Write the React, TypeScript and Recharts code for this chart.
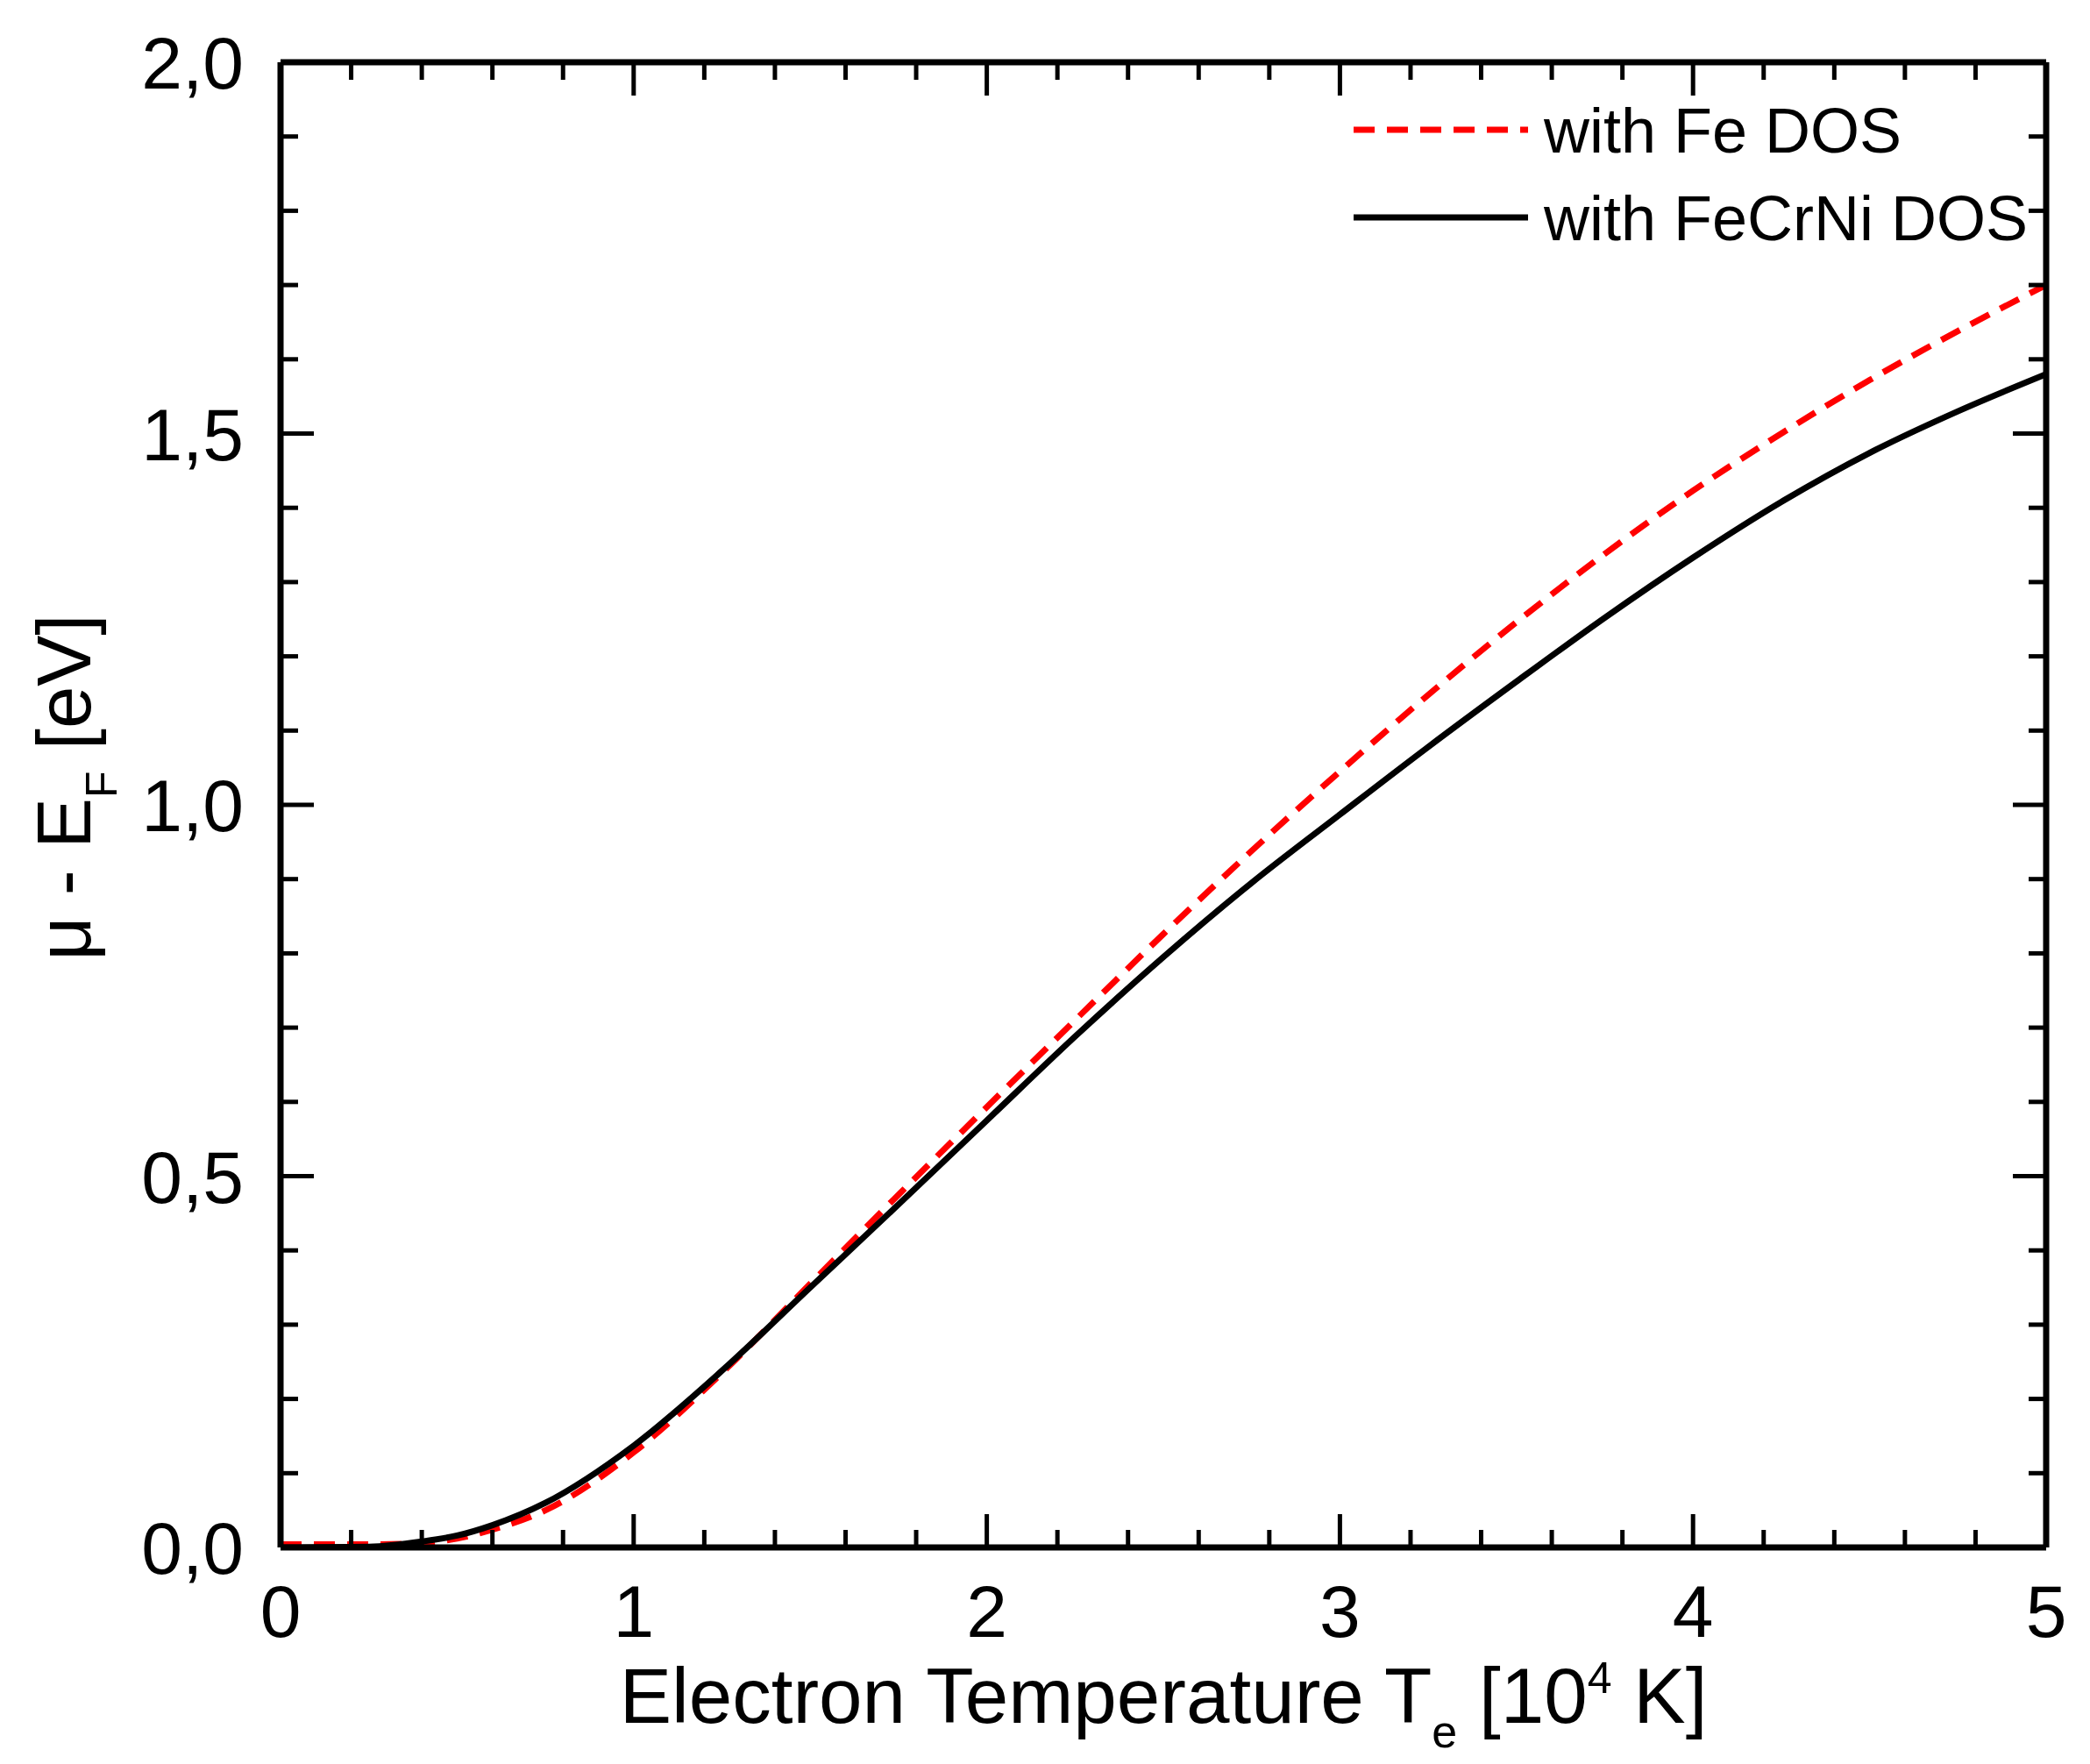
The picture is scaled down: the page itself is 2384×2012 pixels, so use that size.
import { LineChart, Line, XAxis, YAxis, Legend, Label } from 'recharts';

// Electron temperature [10^4 K]
const temperature = [0, 0.25, 0.4, 0.5, 0.6, 0.75, 1, 1.25, 1.5, 1.75, 2, 2.25, 2.5, 2.75, 3, 3.25, 3.5, 3.75, 4, 4.25, 4.5, 4.75, 5];
// mu - E_F [eV]
const feDos = [0.004, 0.004, 0.006, 0.012, 0.024, 0.05, 0.128, 0.235, 0.355, 0.475, 0.593, 0.71, 0.826, 0.938, 1.045, 1.148, 1.246, 1.338, 1.423, 1.5, 1.572, 1.638, 1.7];
const feCrNiDos = [0, 0.001, 0.008, 0.016, 0.03, 0.06, 0.137, 0.238, 0.35, 0.462, 0.575, 0.688, 0.795, 0.895, 0.987, 1.078, 1.166, 1.252, 1.333, 1.408, 1.474, 1.53, 1.58];

const xTicks = [0, 0.2, 0.4, 0.6, 0.8, 1, 1.2, 1.4, 1.6, 1.8, 2, 2.2, 2.4, 2.6, 2.8, 3, 3.2, 3.4, 3.6, 3.8, 4, 4.2, 4.4, 4.6, 4.8, 5];
const yTicks = [0, 0.1, 0.2, 0.3, 0.4, 0.5, 0.6, 0.7, 0.8, 0.9, 1, 1.1, 1.2, 1.3, 1.4, 1.5, 1.6, 1.7, 1.8, 1.9, 2];

const seriesNames = ['with Fe DOS', 'with FeCrNi DOS'];

const data = temperature.map((t, i) => ({ t, fe: feDos[i], fecrni: feCrNiDos[i] }));

const FONT = '"Liberation Sans", Arial, sans-serif';
const MAJOR = 38;
const MINOR = 20;

const isMajorX = (v: number) => Math.abs(v - Math.round(v)) < 1e-6;
const isMajorY = (v: number) => Math.abs(v * 2 - Math.round(v * 2)) < 1e-6;

const BottomTick = (props: any) => {
  const { x, y, payload } = props;
  const v = payload.value;
  const major = isMajorX(v);
  return (
    <g>
      <line x1={x} x2={x} y1={y} y2={y - (major ? MAJOR : MINOR)} stroke="#000" strokeWidth={5} />
      {major && (
        <text x={x} y={y + 102} textAnchor="middle" fontSize={84} fontFamily={FONT} fill="#000">
          {Math.round(v)}
        </text>
      )}
    </g>
  );
};

const TopTick = (props: any) => {
  const { x, y, payload } = props;
  const major = isMajorX(payload.value);
  return <line x1={x} x2={x} y1={y} y2={y + (major ? MAJOR : MINOR)} stroke="#000" strokeWidth={5} />;
};

const LeftTick = (props: any) => {
  const { x, y, payload } = props;
  const v = payload.value;
  const major = isMajorY(v);
  return (
    <g>
      <line x1={x} x2={x + (major ? MAJOR : MINOR)} y1={y} y2={y} stroke="#000" strokeWidth={5} />
      {major && (
        <text x={x - 42} y={y + 30} textAnchor="end" fontSize={84} fontFamily={FONT} fill="#000">
          {v.toFixed(1).replace('.', ',')}
        </text>
      )}
    </g>
  );
};

const RightTick = (props: any) => {
  const { x, y, payload } = props;
  const major = isMajorY(payload.value);
  return <line x1={x} x2={x - (major ? MAJOR : MINOR)} y1={y} y2={y} stroke="#000" strokeWidth={5} />;
};

const XTitle = (props: any) => {
  const { x, y, width } = props.viewBox;
  return (
    <text x={x + width / 2} y={y + 200} textAnchor="middle" fontSize={89} fontFamily={FONT} fill="#000">
      Electron Temperature T
      <tspan fontSize={52} dy={28}>e</tspan>
      <tspan dy={-28}> [10</tspan>
      <tspan fontSize={50} dy={-34}>4</tspan>
      <tspan dy={34}> K]</tspan>
    </text>
  );
};

const YTitle = (props: any) => {
  const { x, y, height } = props.viewBox;
  const cx = x + 103;
  const cy = y + height / 2 - 20;
  return (
    <text transform={`translate(${cx}, ${cy}) rotate(-90)`} textAnchor="middle" fontSize={87} fontFamily={FONT} fill="#000">
      μ - E
      <tspan fontSize={50} dy={30}>F</tspan>
      <tspan dy={-30}> [eV]</tspan>
    </text>
  );
};

const LegendBox = () => (
  <svg width={820} height={200}>
    <line x1={0} x2={199} y1={48} y2={48} stroke="#ff0000" strokeWidth={7} strokeDasharray="24 14" />
    <text x={217} y={74} fontSize={72} fontFamily={FONT} fill="#000">{seriesNames[0]}</text>
    <line x1={0} x2={199} y1={148} y2={148} stroke="#000" strokeWidth={7} />
    <text x={217} y={174} fontSize={72} fontFamily={FONT} fill="#000">{seriesNames[1]}</text>
  </svg>
);

export default function App() {
  return (
    <div style={{ position: 'absolute', left: 0, top: 0, background: '#fff' }}>
      <LineChart width={2384} height={2012} data={data} margin={{ top: 70, right: 49, bottom: 0, left: 0 }}>
        <XAxis
          xAxisId="b"
          dataKey="t"
          type="number"
          domain={[0, 5]}
          allowDataOverflow
          ticks={xTicks}
          interval={0}
          tick={<BottomTick />}
          tickLine={false}
          tickSize={0}
          tickMargin={0}
          height={247}
          axisLine={{ stroke: '#000', strokeWidth: 7 }}
        >
          <Label content={<XTitle />} />
        </XAxis>
        <XAxis
          xAxisId="t"
          orientation="top"
          dataKey="t"
          type="number"
          domain={[0, 5]}
          allowDataOverflow
          ticks={xTicks}
          interval={0}
          tick={<TopTick />}
          tickLine={false}
          tickSize={0}
          tickMargin={0}
          height={1}
          axisLine={{ stroke: '#000', strokeWidth: 7 }}
        />
        <YAxis
          yAxisId="l"
          type="number"
          domain={[0, 2]}
          allowDataOverflow
          ticks={yTicks}
          interval={0}
          tick={<LeftTick />}
          tickLine={false}
          tickSize={0}
          tickMargin={0}
          width={320}
          axisLine={{ stroke: '#000', strokeWidth: 7 }}
        >
          <Label content={<YTitle />} />
        </YAxis>
        <YAxis
          yAxisId="r"
          orientation="right"
          type="number"
          domain={[0, 2]}
          allowDataOverflow
          ticks={yTicks}
          interval={0}
          tick={<RightTick />}
          tickLine={false}
          tickSize={0}
          tickMargin={0}
          width={1}
          axisLine={{ stroke: '#000', strokeWidth: 7 }}
        />
        <Legend
          layout="vertical"
          align="center"
          verticalAlign="middle"
          content={<LegendBox />}
          wrapperStyle={{ position: 'absolute', top: 100, left: 1544, width: 820 }}
        />
        <Line
          xAxisId="b"
          yAxisId="l"
          type="monotone"
          dataKey="fe"
          name={seriesNames[0]}
          stroke="#ff0000"
          strokeWidth={7}
          strokeDasharray="24 14"
          dot={false}
          isAnimationActive={false}
        />
        <Line
          xAxisId="b"
          yAxisId="l"
          type="monotone"
          dataKey="fecrni"
          name={seriesNames[1]}
          stroke="#000"
          strokeWidth={7}
          dot={false}
          isAnimationActive={false}
        />
      </LineChart>
    </div>
  );
}
